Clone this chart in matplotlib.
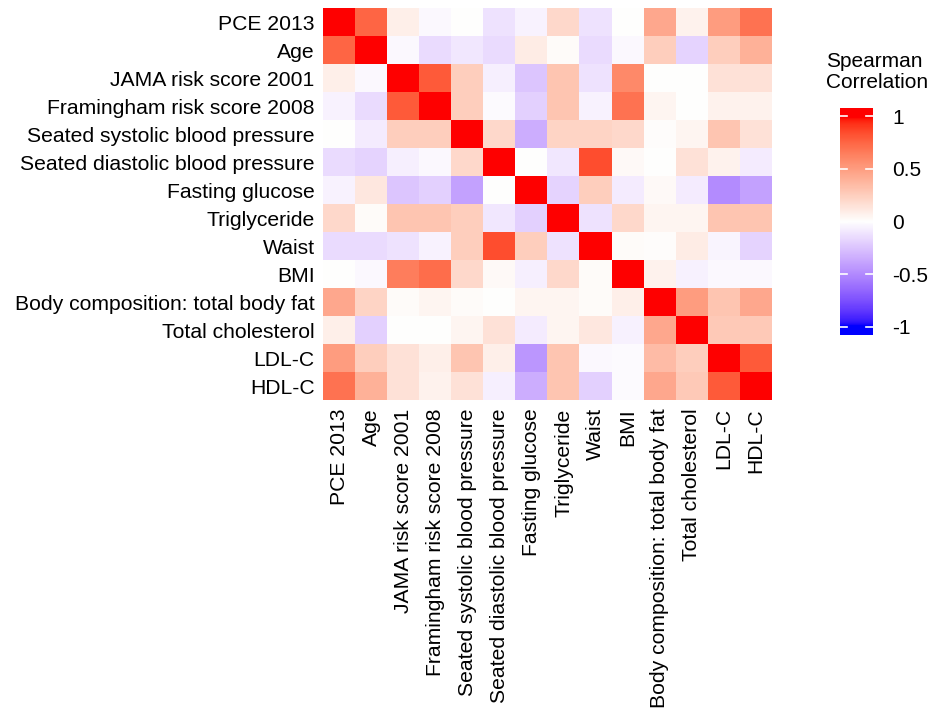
import numpy as np
import matplotlib
matplotlib.use("Agg")
import matplotlib.pyplot as plt
from matplotlib.colors import ListedColormap

plt.rcParams['font.family'] = ['Liberation Sans', 'DejaVu Sans']

# 变量名
labels = ["PCE 2013", "Age", "JAMA risk score 2001", "Framingham risk score 2008",
          "Seated systolic blood pressure", "Seated diastolic blood pressure",
          "Fasting glucose", "Triglyceride", "Waist", "BMI",
          "Body composition: total body fat", "Total cholesterol", "LDL-C", "HDL-C"]

# Spearman 相关系数
row_pce   = [1.00, 0.75, 0.08, -0.03, 0.00, -0.12, -0.05, 0.20, -0.12, 0.00, 0.45, 0.07, 0.50, 0.70]
row_age   = [0.75, 1.00, -0.03, -0.15, -0.10, -0.15, 0.10, 0.02, -0.15, -0.03, 0.25, -0.18, 0.25, 0.40]
row_jama  = [0.08, -0.03, 1.00, 0.80, 0.25, -0.07, -0.25, 0.30, -0.12, 0.60, 0.00, 0.00, 0.15, 0.15]
row_fram  = [-0.05, -0.15, 0.80, 1.00, 0.25, -0.02, -0.20, 0.30, -0.05, 0.70, 0.05, 0.00, 0.07, 0.07]
row_ssbp  = [0.00, -0.08, 0.25, 0.25, 1.00, 0.20, -0.35, 0.22, 0.22, 0.20, 0.01, 0.05, 0.30, 0.15]
row_sdbp  = [-0.15, -0.18, -0.07, -0.03, 0.20, 1.00, 0.00, -0.10, 0.85, 0.03, 0.00, 0.15, 0.07, -0.08]
row_glu   = [-0.05, 0.12, -0.25, -0.20, -0.40, 0.00, 1.00, -0.18, 0.25, -0.08, 0.03, -0.08, -0.50, -0.40]
row_tg    = [0.20, 0.02, 0.30, 0.30, 0.25, -0.10, -0.20, 1.00, -0.12, 0.20, 0.05, 0.05, 0.30, 0.30]
row_waist = [-0.15, -0.15, -0.12, -0.05, 0.25, 0.85, 0.25, -0.12, 1.00, 0.02, 0.01, 0.10, -0.04, -0.18]
row_bmi   = [0.00, -0.03, 0.65, 0.72, 0.20, 0.03, -0.07, 0.20, 0.02, 1.00, 0.07, -0.06, -0.03, -0.03]
row_fat   = [0.45, 0.22, 0.02, 0.05, 0.02, 0.00, 0.05, 0.05, 0.02, 0.08, 1.00, 0.50, 0.30, 0.45]
row_tc    = [0.08, -0.20, 0.00, 0.00, 0.05, 0.15, -0.08, 0.05, 0.12, -0.06, 0.45, 1.00, 0.28, 0.28]
row_ldl   = [0.50, 0.25, 0.15, 0.08, 0.30, 0.08, -0.45, 0.30, -0.03, -0.02, 0.35, 0.25, 1.00, 0.80]
row_hdl   = [0.70, 0.40, 0.15, 0.07, 0.15, -0.07, -0.35, 0.30, -0.20, -0.02, 0.45, 0.28, 0.80, 1.00]

corr = np.array([row_pce, row_age, row_jama, row_fram, row_ssbp, row_sdbp, row_glu,
                 row_tg, row_waist, row_bmi, row_fat, row_tc, row_ldl, row_hdl])


# 蓝-白-红 渐变 (Lab 空间插值, 类似 ggplot 的 gradient2)
def srgb_to_lab(c):
    c = np.asarray(c, float)
    lin = np.where(c <= 0.04045, c / 12.92, ((c + 0.055) / 1.055) ** 2.4)
    M = np.array([[0.4124, 0.3576, 0.1805], [0.2126, 0.7152, 0.0722], [0.0193, 0.1192, 0.9505]])
    xyz = M @ lin / np.array([0.95047, 1.0, 1.08883])
    f = np.where(xyz > 0.008856, np.cbrt(xyz), 7.787 * xyz + 16 / 116)
    return np.array([116 * f[1] - 16, 500 * (f[0] - f[1]), 200 * (f[1] - f[2])])


def lab_to_srgb(lab):
    L, a, b = lab
    fy = (L + 16) / 116
    fx = fy + a / 500
    fz = fy - b / 200
    f = np.array([fx, fy, fz])
    xyz = np.where(f ** 3 > 0.008856, f ** 3, (f - 16 / 116) / 7.787) * np.array([0.95047, 1.0, 1.08883])
    Minv = np.array([[3.2406, -1.5372, -0.4986], [-0.9689, 1.8758, 0.0415], [0.0557, -0.2040, 1.0570]])
    lin = np.clip(Minv @ xyz, 0, 1)
    return np.where(lin <= 0.0031308, 12.92 * lin, 1.055 * lin ** (1 / 2.4) - 0.055)


blue, white, red = srgb_to_lab([0, 0, 1]), srgb_to_lab([1, 1, 1]), srgb_to_lab([1, 0, 0])
cols = []
for t in np.linspace(-1, 1, 256):
    if t < 0:
        cols.append(lab_to_srgb(white + (blue - white) * (-t)))
    else:
        cols.append(lab_to_srgb(white + (red - white) * t))
cmap = ListedColormap(np.clip(cols, 0, 1))

fig = plt.figure(figsize=(9.36, 7.2), dpi=100)
ax = fig.add_axes([323 / 936, 1 - 400 / 720, 449 / 936, 392 / 720])
ax.imshow(corr, cmap=cmap, vmin=-1, vmax=1, aspect='auto', interpolation='nearest')
ax.set_xticks(range(len(labels)))
ax.set_yticks(range(len(labels)))
ax.set_xticklabels(labels, rotation=90, fontsize=15.2)
ax.set_yticklabels(labels, fontsize=15.2)
ax.tick_params(length=0, pad=6)
for s in ax.spines.values():
    s.set_visible(False)

# 图例色条
cax = fig.add_axes([840 / 936, 1 - 335 / 720, 33 / 936, 227 / 720])
grad = np.linspace(1.08, -1.08, 300)[:, None]
cax.imshow(grad, cmap=cmap, vmin=-1, vmax=1, aspect='auto', extent=[0, 1, -1.08, 1.08])
cax.set_xlim(0, 1)
cax.set_ylim(-1.08, 1.08)
ticks = [1, 0.5, 0, -0.5, -1]
for t in ticks:
    cax.plot([0, 0.2], [t, t], color='white', lw=1.2)
    cax.plot([0.8, 1], [t, t], color='white', lw=1.2)
cax.set_xticks([])
cax.yaxis.tick_right()
cax.set_yticks(ticks)
cax.set_yticklabels(['1', '0.5', '0', '-0.5', '-1'], fontsize=15)
cax.tick_params(length=0, pad=14)
for s in cax.spines.values():
    s.set_visible(False)
fig.text(826 / 936, 1 - 52 / 720, 'Spearman\nCorrelation', fontsize=15,
         ha='left', va='top', multialignment='left', linespacing=1.1)

fig.savefig('out.png', dpi=100)
